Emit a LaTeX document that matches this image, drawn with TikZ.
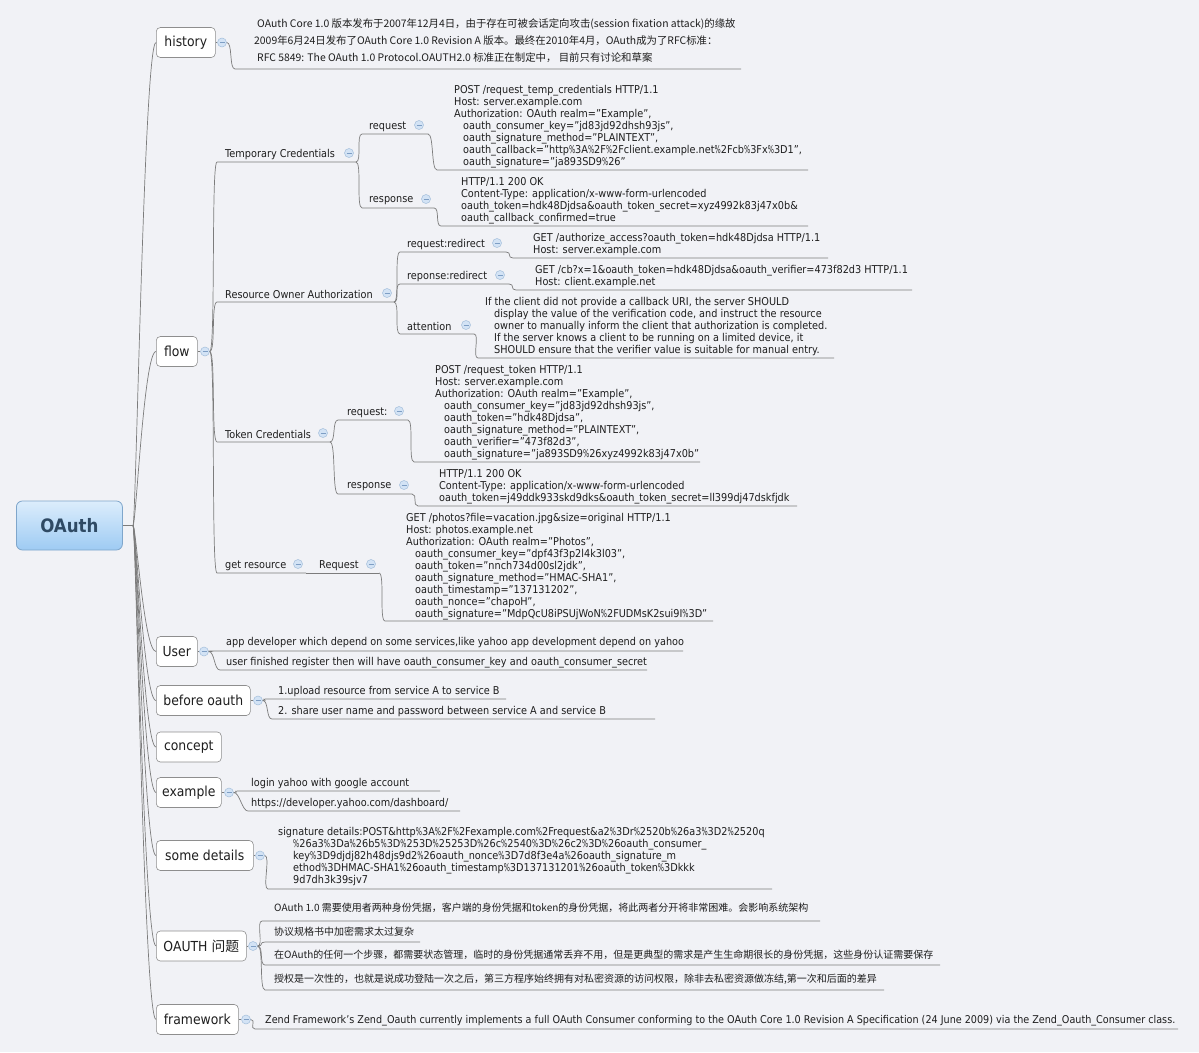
\documentclass[tikz,border=0pt]{standalone}
\usepackage{fontspec}
\setmainfont{DejaVu Sans}[FakeStretch=0.9]
\newfontfamily\cjkfont{Noto Sans CJK SC}
\usepackage{xcolor}
\definecolor{canvas}{HTML}{F1F2F6}
\definecolor{wire}{HTML}{7C7C7C}
\definecolor{ink}{HTML}{1E1E1E}
\definecolor{boxline}{HTML}{8E8E8E}
\definecolor{roottop}{HTML}{DCEDFC}
\definecolor{rootbottom}{HTML}{9ECBF3}
\definecolor{rootline}{HTML}{7FA6CB}
\definecolor{rootink}{HTML}{2F4A64}
\definecolor{markfill}{HTML}{D3E3F5}
\definecolor{markline}{HTML}{A3BEDB}
\definecolor{markdash}{HTML}{7E9EC4}
\newcommand{\leaffont}{\fontsize{10.8}{12}\selectfont}
\newcommand{\topicfont}{\fontsize{13.8}{16}\selectfont}
\newcommand{\rootfont}{\fontsize{18.5}{22}\selectfont\bfseries}
\newcommand{\cjkleaf}{\cjkfont\fontsize{10}{17}\selectfont}
\newcommand{\cjknote}{\cjkfont\fontsize{10.4}{17}\selectfont}
\newcommand{\pct}{\scalebox{0.67}[1]{\%}}

\begin{document}
\begin{tikzpicture}[
  x=1pt, y=-1pt,
  font=\leaffont,
  rootnode/.style={
    draw=rootline,
    line width=0.8pt,
    rounded corners=6pt,
    top color=roottop,
    bottom color=rootbottom,
    minimum width=106pt,
    minimum height=49pt,
    anchor=west,
    font=\rootfont,
    text=rootink
  },
  topicbox/.style={
    draw=boxline,
    fill=white,
    rounded corners=4pt,
    line width=0.6pt,
    minimum height=30pt,
    inner xsep=2pt,
    anchor=west,
    font=\topicfont,
    text=ink
  },
  subtopic/.style={anchor=west, inner sep=0pt, yshift=-1.5pt, font=\leaffont, text=ink},
  codeblock/.style={anchor=north west, inner sep=0pt, yshift=-1pt, align=left, font=\leaffont, text=ink},
  cjkline/.style={anchor=west, inner sep=0pt, font=\cjkleaf, text=ink},
  foldmark/.style={
    circle,
    draw=markline,
    fill=markfill,
    line width=0.5pt,
    minimum size=9pt,
    inner sep=0pt,
    path picture={\draw[markdash, line width=0.9pt]
      ([xshift=2pt]path picture bounding box.west) -- ([xshift=-2pt]path picture bounding box.east);}
  },
  branch/.style={draw=wire, line width=0.7pt},
  link/.style={to path={.. controls +(6,0) and +(-6,0) .. (\tikztotarget) \tikztonodes}},
  trunk/.style={to path={.. controls +(3,0) and +(-12,0) .. (\tikztotarget) \tikztonodes}}
]

  \fill[canvas] (0,0) rectangle (1199,1052);
  \useasboundingbox (0,0) rectangle (1199,1052);

  % =========================================================================
  % CENTRAL TOPIC AND MAIN BRANCHES
  % =========================================================================
  \node[rootnode] (root) at (16,525.5) {OAuth};
  \coordinate (hub) at (133,525.5);

  \node[topicbox, minimum width=59pt] (history) at (156,42.5) {history};
  \node[topicbox, minimum width=41pt] (flow) at (156,351.5) {flow};
  \node[topicbox, minimum width=41pt] (user) at (156,651.5) {User};
  \node[topicbox, minimum width=94pt] (before) at (156,700.5) {before oauth};
  \node[topicbox, minimum width=65pt] (concept) at (156,747) {concept};
  \node[topicbox, minimum width=65pt] (example) at (156,792.5) {example};
  \node[topicbox, minimum width=97pt] (details) at (156,855.5) {some details};
  \node[topicbox, minimum width=90pt] (issues) at (156,946) {OAUTH {\cjkfont 问题}};
  \node[topicbox, minimum width=82pt] (framework) at (156,1019.5) {framework};

  \node[foldmark] (historym) at (222,42.5) {};
  \node[foldmark] (flowm) at (205,351.5) {};
  \node[foldmark] (userm) at (204,651.5) {};
  \node[foldmark] (beforem) at (258,700.5) {};
  \node[foldmark] (examplem) at (229,792.5) {};
  \node[foldmark] (detailsm) at (260,855.5) {};
  \node[foldmark] (issuesm) at (253,946) {};
  \node[foldmark] (frameworkm) at (246,1019.5) {};

  \draw[branch] (root.east) -- (hub);
  \draw[branch] (hub) to[trunk] (history.west);
  \draw[branch] (hub) to[trunk] (flow.west);
  \draw[branch] (hub) to[trunk] (user.west);
  \draw[branch] (hub) to[trunk] (before.west);
  \draw[branch] (hub) to[trunk] (concept.west);
  \draw[branch] (hub) to[trunk] (example.west);
  \draw[branch] (hub) to[trunk] (details.west);
  \draw[branch] (hub) to[trunk] (issues.west);
  \draw[branch] (hub) to[trunk] (framework.west);

  \draw[branch] (history.east) -- (historym.west);
  \draw[branch] (flow.east) -- (flowm.west);
  \draw[branch] (user.east) -- (userm.west);
  \draw[branch] (before.east) -- (beforem.west);
  \draw[branch] (example.east) -- (examplem.west);
  \draw[branch] (details.east) -- (detailsm.west);
  \draw[branch] (issues.east) -- (issuesm.west);
  \draw[branch] (framework.east) -- (frameworkm.west);

  % =========================================================================
  % HISTORY
  % =========================================================================
  \node[anchor=north west, inner sep=0pt, align=left, font=\cjknote, text=ink] (historynote) at (254,18.5) {
    \hspace*{3pt}OAuth Core 1.0 版本发布于2007年12月4日，由于存在可被会话定向攻击(session fixation attack)的缘故\\
    2009年6月24日发布了OAuth Core 1.0 Revision A 版本。最终在2010年4月，OAuth成为了RFC标准：\\
    \hspace*{3pt}RFC 5849: The OAuth 1.0 Protocol.OAUTH2.0 标准正在制定中， 目前只有讨论和草案};
  \draw[branch] (historym.east) to[link] (235,69) -- (741,69);

  % =========================================================================
  % FLOW
  % =========================================================================
  \node[subtopic] (tempcred) at (225,153) {Temporary Credentials};
  \node[subtopic] (ownerauth) at (225,293) {Resource Owner Authorization};
  \node[subtopic] (tokencred) at (225,433) {Token Credentials};
  \node[subtopic] (getres) at (225,564) {get resource};
  \node[foldmark] (tempcredm) at (349,153) {};
  \node[foldmark] (ownerauthm) at (387,293) {};
  \node[foldmark] (tokencredm) at (323,433) {};
  \node[foldmark] (getresm) at (298,564) {};

  \draw[branch] (flowm.east) to[link] (217,162) -- (356,162) coordinate (tempcred-out);
  \draw[branch] (flowm.east) to[link] (217,302) -- (394,302) coordinate (ownerauth-out);
  \draw[branch] (flowm.east) to[link] (217,442) -- (330,442) coordinate (tokencred-out);
  \draw[branch] (flowm.east) to[link] (217,573) -- (306,573) coordinate (getres-out);

  % Temporary Credentials
  \node[subtopic] (tcreq) at (369,125) {request};
  \node[subtopic] (tcresp) at (369,199) {response};
  \node[foldmark] (tcreqm) at (419,125) {};
  \node[foldmark] (tcrespm) at (426,199) {};

  \node[codeblock] (tcreqcode) at (454,84.5) {
    POST /request\_temp\_credentials HTTP/1.1\\
    Host: server.example.com\\
    Authorization: OAuth realm="Example",\\
    \hspace*{9pt}oauth\_consumer\_key="jd83jd92dhsh93js",\\
    \hspace*{9pt}oauth\_signature\_method="PLAINTEXT",\\
    \hspace*{9pt}oauth\_callback="http\pct3A\pct2F\pct2Fclient.example.net\pct2Fcb\pct3Fx\pct3D1",\\
    \hspace*{9pt}oauth\_signature="ja893SD9\pct26"};
  \node[codeblock] (tcrespcode) at (461,176.5) {
    HTTP/1.1 200 OK\\
    Content-Type: application/x-www-form-urlencoded\\
    oauth\_token=hdk48Djdsa\&oauth\_token\_secret=xyz4992k83j47x0b\&\\
    oauth\_callback\_confirmed=true};

  \draw[branch] (tempcred-out) to[link] (362,134) -- (428,134) coordinate (tcreq-out);
  \draw[branch] (tempcred-out) to[link] (362,208) -- (434,208) coordinate (tcresp-out);
  \draw[branch] (tcreq-out) to[link] (437,170) -- (808,170);
  \draw[branch] (tcresp-out) to[link] (441,226) -- (808,226);

  % Resource Owner Authorization
  \node[subtopic] (oareq) at (407,243) {request:redirect};
  \node[subtopic] (oaresp) at (407,275) {reponse:redirect};
  \node[subtopic] (oanote) at (407,325) {attention};
  \node[foldmark] (oareqm) at (497,243) {};
  \node[foldmark] (oarespm) at (500,275) {};
  \node[foldmark] (oanotem) at (466,325) {};

  \node[codeblock] (oareqcode) at (533,232.5) {
    GET /authorize\_access?oauth\_token=hdk48Djdsa HTTP/1.1\\
    Host: server.example.com};
  \node[codeblock] (oarespcode) at (535,264.5) {
    GET /cb?x=1\&oauth\_token=hdk48Djdsa\&oauth\_verifier=473f82d3 HTTP/1.1\\
    Host: client.example.net};
  \node[codeblock] (oanotetext) at (485,296.5) {
    If the client did not provide a callback URI, the server SHOULD\\
    \hspace*{9pt}display the value of the verification code, and instruct the resource\\
    \hspace*{9pt}owner to manually inform the client that authorization is completed.\\
    \hspace*{9pt}If the server knows a client to be running on a limited device, it\\
    \hspace*{9pt}SHOULD ensure that the verifier value is suitable for manual entry.};

  \draw[branch] (ownerauth-out) to[link] (400,252) -- (506,252) coordinate (oareq-out);
  \draw[branch] (ownerauth-out) to[link] (400,284) -- (509,284) coordinate (oaresp-out);
  \draw[branch] (ownerauth-out) to[link] (400,334) -- (474,334) coordinate (oanote-out);
  \draw[branch] (oareq-out) to[link] (513,258) -- (828,258);
  \draw[branch] (oaresp-out) to[link] (516,290) -- (912,290);
  \draw[branch] (oanote-out) to[link] (478,358) -- (834,358);

  % Token Credentials
  \node[subtopic] (tkreq) at (347,411) {request:};
  \node[subtopic] (tkresp) at (347,485) {response};
  \node[foldmark] (tkreqm) at (399,411) {};
  \node[foldmark] (tkrespm) at (404,485) {};

  \node[codeblock] (tkreqcode) at (435,364.5) {
    POST /request\_token HTTP/1.1\\
    Host: server.example.com\\
    Authorization: OAuth realm="Example",\\
    \hspace*{9pt}oauth\_consumer\_key="jd83jd92dhsh93js",\\
    \hspace*{9pt}oauth\_token="hdk48Djdsa",\\
    \hspace*{9pt}oauth\_signature\_method="PLAINTEXT",\\
    \hspace*{9pt}oauth\_verifier="473f82d3",\\
    \hspace*{9pt}oauth\_signature="ja893SD9\pct26xyz4992k83j47x0b"};
  \node[codeblock] (tkrespcode) at (439,468.5) {
    HTTP/1.1 200 OK\\
    Content-Type: application/x-www-form-urlencoded\\
    oauth\_token=j49ddk933skd9dks\&oauth\_token\_secret=ll399dj47dskfjdk};

  \draw[branch] (tokencred-out) to[link] (338,420) -- (408,420) coordinate (tkreq-out);
  \draw[branch] (tokencred-out) to[link] (338,494) -- (412,494) coordinate (tkresp-out);
  \draw[branch] (tkreq-out) to[link] (414,462) -- (700,462);
  \draw[branch] (tkresp-out) to[link] (418,506) -- (797,506);

  % get resource
  \node[subtopic] (grreq) at (319,564) {Request};
  \node[foldmark] (grreqm) at (371,564) {};
  \node[codeblock] (grreqcode) at (406,512.5) {
    GET /photos?file=vacation.jpg\&size=original HTTP/1.1\\
    Host: photos.example.net\\
    Authorization: OAuth realm="Photos",\\
    \hspace*{9pt}oauth\_consumer\_key="dpf43f3p2l4k3l03",\\
    \hspace*{9pt}oauth\_token="nnch734d00sl2jdk",\\
    \hspace*{9pt}oauth\_signature\_method="HMAC-SHA1",\\
    \hspace*{9pt}oauth\_timestamp="137131202",\\
    \hspace*{9pt}oauth\_nonce="chapoH",\\
    \hspace*{9pt}oauth\_signature="MdpQcU8iPSUjWoN\pct2FUDMsK2sui9I\pct3D"};

  \draw[branch] (getres-out) -- (379,573) coordinate (grreq-out);
  \draw[branch] (grreq-out) to[link] (385,621) -- (713,621);

  % =========================================================================
  % USER, BEFORE OAUTH, EXAMPLE
  % =========================================================================
  \node[subtopic] (user1) at (226,641) {app developer which depend on some services,like yahoo app development depend on yahoo};
  \node[subtopic] (user2) at (226,661) {user finished register then will have oauth\_consumer\_key and oauth\_consumer\_secret};
  \draw[branch] (userm.east) to[link] (212,651) -- (683,651);
  \draw[branch] (userm.east) to[link] (220,670) -- (647,670);

  \node[subtopic] (before1) at (278,690) {1.upload resource from service A to service B};
  \node[subtopic] (before2) at (278,710) {2. share user name and password between service A and service B};
  \draw[branch] (beforem.east) to[link] (266,699) -- (506,699);
  \draw[branch] (beforem.east) to[link] (272,719) -- (655,719);

  \node[subtopic] (example1) at (251,782) {login yahoo with google account};
  \node[subtopic] (example2) at (251,802) {https://developer.yahoo.com/dashboard/};
  \draw[branch] (examplem.east) to[link] (238,791) -- (440,791);
  \draw[branch] (examplem.east) to[link] (248,811) -- (460,811);

  % =========================================================================
  % SOME DETAILS
  % =========================================================================
  \node[codeblock] (sigdetail) at (278,826.5) {
    signature details:POST\&http\pct3A\pct2F\pct2Fexample.com\pct2Frequest\&a2\pct3Dr\pct2520b\pct26a3\pct3D2\pct2520q\\
    \hspace*{15pt}\pct26a3\pct3Da\pct26b5\pct3D\pct253D\pct25253D\pct26c\pct2540\pct3D\pct26c2\pct3D\pct26oauth\_consumer\_\\
    \hspace*{15pt}key\pct3D9djdj82h48djs9d2\pct26oauth\_nonce\pct3D7d8f3e4a\pct26oauth\_signature\_m\\
    \hspace*{15pt}ethod\pct3DHMAC-SHA1\pct26oauth\_timestamp\pct3D137131201\pct26oauth\_token\pct3Dkkk\\
    \hspace*{15pt}9d7dh3k39sjv7};
  \draw[branch] (detailsm.east) to[link] (268,889) -- (772,889);

  % =========================================================================
  % OAUTH ISSUES
  % =========================================================================
  \node[cjkline] (issue1) at (274,908) {OAuth 1.0 需要使用者两种身份凭据，客户端的身份凭据和token的身份凭据，将此两者分开将非常困难。会影响系统架构};
  \node[cjkline] (issue2) at (274,932) {协议规格书中加密需求太过复杂};
  \node[cjkline] (issue3) at (274,955) {在OAuth的任何一个步骤，都需要状态管理，临时的身份凭据通常丢弃不用，但是更典型的需求是产生生命期很长的身份凭据，这些身份认证需要保存};
  \node[cjkline] (issue4) at (274,979) {授权是一次性的，也就是说成功登陆一次之后，第三方程序始终拥有对私密资源的访问权限，除非去私密资源做冻结,第一次和后面的差异};
  \draw[branch] (issuesm.east) to[link] (262,921) -- (820,921);
  \draw[branch] (issuesm.east) to[link] (265,942) -- (420,942);
  \draw[branch] (issuesm.east) to[link] (265,965) -- (940,965);
  \draw[branch] (issuesm.east) to[link] (265,990) -- (884,990);

  % =========================================================================
  % FRAMEWORK
  % =========================================================================
  \node[subtopic, font=\fontsize{10.7}{12}\selectfont] (zend) at (265,1019) {Zend Framework's Zend\_Oauth currently implements a full OAuth Consumer conforming to the OAuth Core 1.0 Revision A Specification (24 June 2009) via the Zend\_Oauth\_Consumer class.};
  \draw[branch] (frameworkm.east) to[link] (255,1029) -- (1178,1029);

\end{tikzpicture}
\end{document}
